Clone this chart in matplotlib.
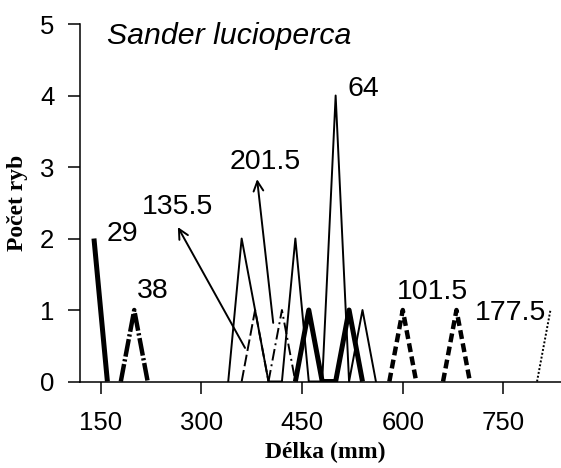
import numpy as np
import matplotlib
matplotlib.use('Agg')
import matplotlib.pyplot as plt

# length classes (mm) and fish counts for each sample; nan breaks the line
x_29 = [140, 160, np.nan, 440, 460, 480, 500, 520, 540]
y_29 = [2, 0, np.nan, 0, 1, 0, 0, 1, 0]
x_38 = [180, 200, 220]
y_38 = [0, 1, 0]
x_135 = [360, 380, 400]
y_135 = [0, 1, 0]
x_201 = [400, 420, 440]
y_201 = [0, 1, 0]
x_64 = [340, 360, 380, 400, 420, 440, 460, 480, 500, 520, 540, 560]
y_64 = [0, 2, 1, 0, 0, 2, 0, 0, 4, 0, 1, 0]
x_101 = [580, 600, 620, np.nan, 660, 680, 700]
y_101 = [0, 1, 0, np.nan, 0, 1, 0]
x_177 = [800, 820]
y_177 = [0, 1]

xticks = [150, 300, 450, 600, 750]
yticks = [0, 1, 2, 3, 4, 5]

sans = 'Liberation Sans'
serif = 'Liberation Serif'

fig = plt.figure(figsize=(5.61, 4.68), dpi=100)
ax = fig.add_axes([0.1426, 0.1848, 0.8574, 0.7639])

ax.plot(x_64, y_64, color='black', lw=1.4)
ax.plot(x_135, y_135, color='black', lw=1.4, ls=(0, (6, 2)))
ax.plot(x_201, y_201, color='black', lw=1.4, ls=(0, (6, 2, 1, 2)))
ax.plot(x_29, y_29, color='black', lw=3.6, solid_capstyle='butt')
ax.plot(x_38, y_38, color='black', lw=3.2, ls=(0, (4, 0.6, 0.5, 0.6)))
ax.plot(x_101, y_101, color='black', lw=3.2, ls=(0, (2, 1)))
ax.plot(x_177, y_177, color='black', lw=1.4, ls=(0, (1, 1)))

# labels of the samples
fs = 20.5
ax.text(182, 2.06, '29', fontsize=fs, family=sans, ha='center', va='center')
ax.text(228, 1.27, '38', fontsize=fs, family=sans, ha='center', va='center')
ax.text(541, 4.09, '64', fontsize=fs, family=sans, ha='center', va='center')
ax.text(645, 1.25, '101.5', fontsize=fs, family=sans, ha='center', va='center')
ax.text(760, 0.96, '177.5', fontsize=fs, family=sans, ha='center', va='center')
ax.text(264, 2.44, '135.5', fontsize=fs, family=sans, ha='center', va='center')
ax.text(395, 3.07, '201.5', fontsize=fs, family=sans, ha='center', va='center')
arrow = dict(arrowstyle='->,head_length=0.7,head_width=0.35', color='black', lw=1.4,
             shrinkA=0, shrinkB=0)
ax.annotate('', xy=(265, 2.16), xytext=(365, 0.47), arrowprops=arrow)
ax.annotate('', xy=(383, 2.83), xytext=(407, 0.82), arrowprops=arrow)

ax.text(159.5, 4.72, 'Sander lucioperca', fontsize=21.8, family=sans, style='italic',
        ha='left', va='baseline')

ax.set_xlim(119.2, 835.7)
ax.set_ylim(0, 5)
ax.set_xticks(xticks)
ax.set_yticks(yticks)
for s in ['top', 'right']:
    ax.spines[s].set_visible(False)
for s in ['left', 'bottom']:
    ax.spines[s].set_linewidth(1.1)
ax.tick_params(direction='out', length=8.5, width=1.1, labelsize=18.5, pad=10)
ax.tick_params(axis='x', pad=13)
for lab in ax.get_xticklabels() + ax.get_yticklabels():
    lab.set_family(sans)

ax.set_xlabel('Délka (mm)', family=serif, fontweight='bold', fontsize=17)
ax.set_ylabel('Počet ryb', family=serif, fontweight='bold', fontsize=17)
ax.xaxis.set_label_coords(0.509, -0.17)
ax.yaxis.set_label_coords(-0.108, 0.5)

fig.savefig('out.png', dpi=100)
